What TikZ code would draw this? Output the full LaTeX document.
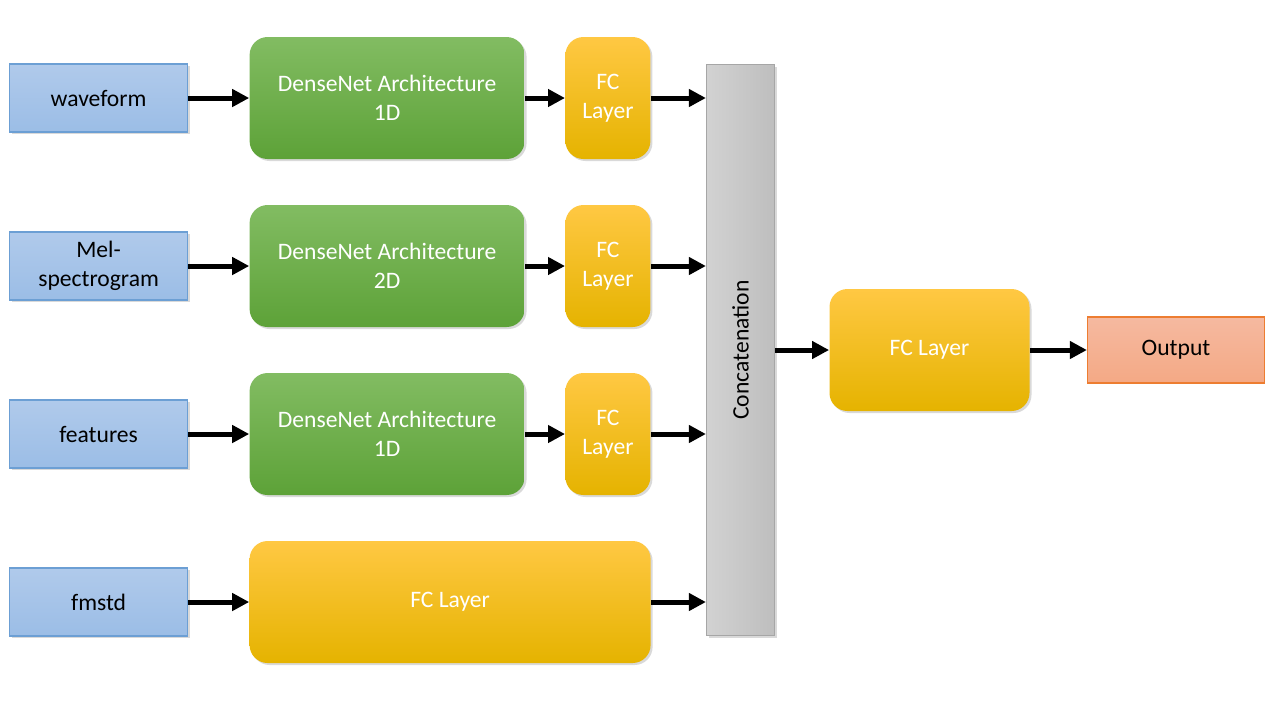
\documentclass[tikz,border=0pt]{standalone}
\usepackage{fontspec}
\setmainfont{Carlito}
\usepackage{tikz}
\usetikzlibrary{arrows.meta, positioning, calc, shadows}

\definecolor{inTop}{HTML}{B0CAEB}
\definecolor{inBot}{HTML}{9BBDE6}
\definecolor{inLine}{HTML}{6C9FD4}
\definecolor{dnTop}{HTML}{82BC62}
\definecolor{dnBot}{HTML}{5DA238}
\definecolor{fcTop}{HTML}{FFC843}
\definecolor{fcMid}{HTML}{FFC600}
\definecolor{fcBot}{HTML}{E5B300}
\definecolor{catL}{HTML}{D2D2D2}
\definecolor{catR}{HTML}{BEBEBE}
\definecolor{catLine}{HTML}{A6A6A6}
\definecolor{outTop}{HTML}{F5B9A0}
\definecolor{outBot}{HTML}{F4A985}
\definecolor{outLine}{HTML}{ED7D31}

\begin{document}
\begin{tikzpicture}[
    font=\fontsize{11.8}{14.5}\selectfont,
    sh/.style={drop shadow={shadow xshift=1pt, shadow yshift=-1pt, opacity=0.3}},
    inp/.style={draw=inLine, line width=0.6pt, top color=inTop, bottom color=inBot,
                minimum width=89pt, minimum height=34pt, inner sep=2pt, align=center, sh},
    dense/.style={rounded corners=9pt, top color=dnTop, bottom color=dnBot, text=white,
                  minimum width=137.5pt, minimum height=61pt, align=center, sh},
    fc/.style={rounded corners=9pt, top color=fcTop, middle color=fcMid, bottom color=fcBot,
               text=white, minimum width=42.5pt, minimum height=61pt, inner sep=1pt,
               align=center, sh},
    arr/.style={line width=2.5pt, -{Triangle[length=8.5pt, width=8.5pt]}}]
  % inputs
  \node[inp] (in1) {waveform};
  \node[inp, below=49.4pt of in1] (in2) {Mel-\\spectrogram};
  \node[inp, below=49.4pt of in2] (in3) {features};
  \node[inp, below=49.4pt of in3] (in4) {fmstd};
  \useasboundingbox ($(in1.west)+(-4.5pt,49pt)$) rectangle ++(640pt,-360pt);
  % branches
  \node[dense, right=30.5pt of in1] (dn1) {DenseNet Architecture\\1D};
  \node[dense, right=30.5pt of in2] (dn2) {DenseNet Architecture\\2D};
  \node[dense, right=30.5pt of in3] (dn3) {DenseNet Architecture\\1D};
  \node[fc, right=20pt of dn1] (fc1) {FC\\Layer};
  \node[fc, right=20pt of dn2] (fc2) {FC\\Layer};
  \node[fc, right=20pt of dn3] (fc3) {FC\\Layer};
  \node[fc, minimum width=200.5pt, anchor=west] (fc4) at ($(in4.east)+(30.5pt,0)$) {FC Layer};
  % concatenation
  \path (fc1.east) -- (fc4.east) coordinate[midway] (mid);
  \node[draw=catLine, line width=0.6pt, left color=catL, right color=catR, sh,
        minimum width=34pt, minimum height=285.5pt, right=27.5pt of mid] (cat) {};
  \node[rotate=90] (catlbl) at (cat) {Concatenation};
  \node[fc, minimum width=100pt, right=27pt of cat] (fcout) {FC Layer};
  \node[draw=outLine, line width=0.6pt, top color=outTop, bottom color=outBot,
        minimum width=88.5pt, minimum height=33pt, right=28.5pt of fcout] (out) {Output};
  % arrows
  \foreach \i in {1,2,3} {
    \draw[arr] (in\i) -- (dn\i);
    \draw[arr] (dn\i) -- (fc\i);
    \draw[arr] (fc\i) -- (fc\i -| cat.west);
  }
  \draw[arr] (in4) -- (fc4);
  \draw[arr] (fc4) -- (fc4 -| cat.west);
  \draw[arr] (cat) -- (fcout);
  \draw[arr] (fcout) -- (out);
\end{tikzpicture}
\end{document}
